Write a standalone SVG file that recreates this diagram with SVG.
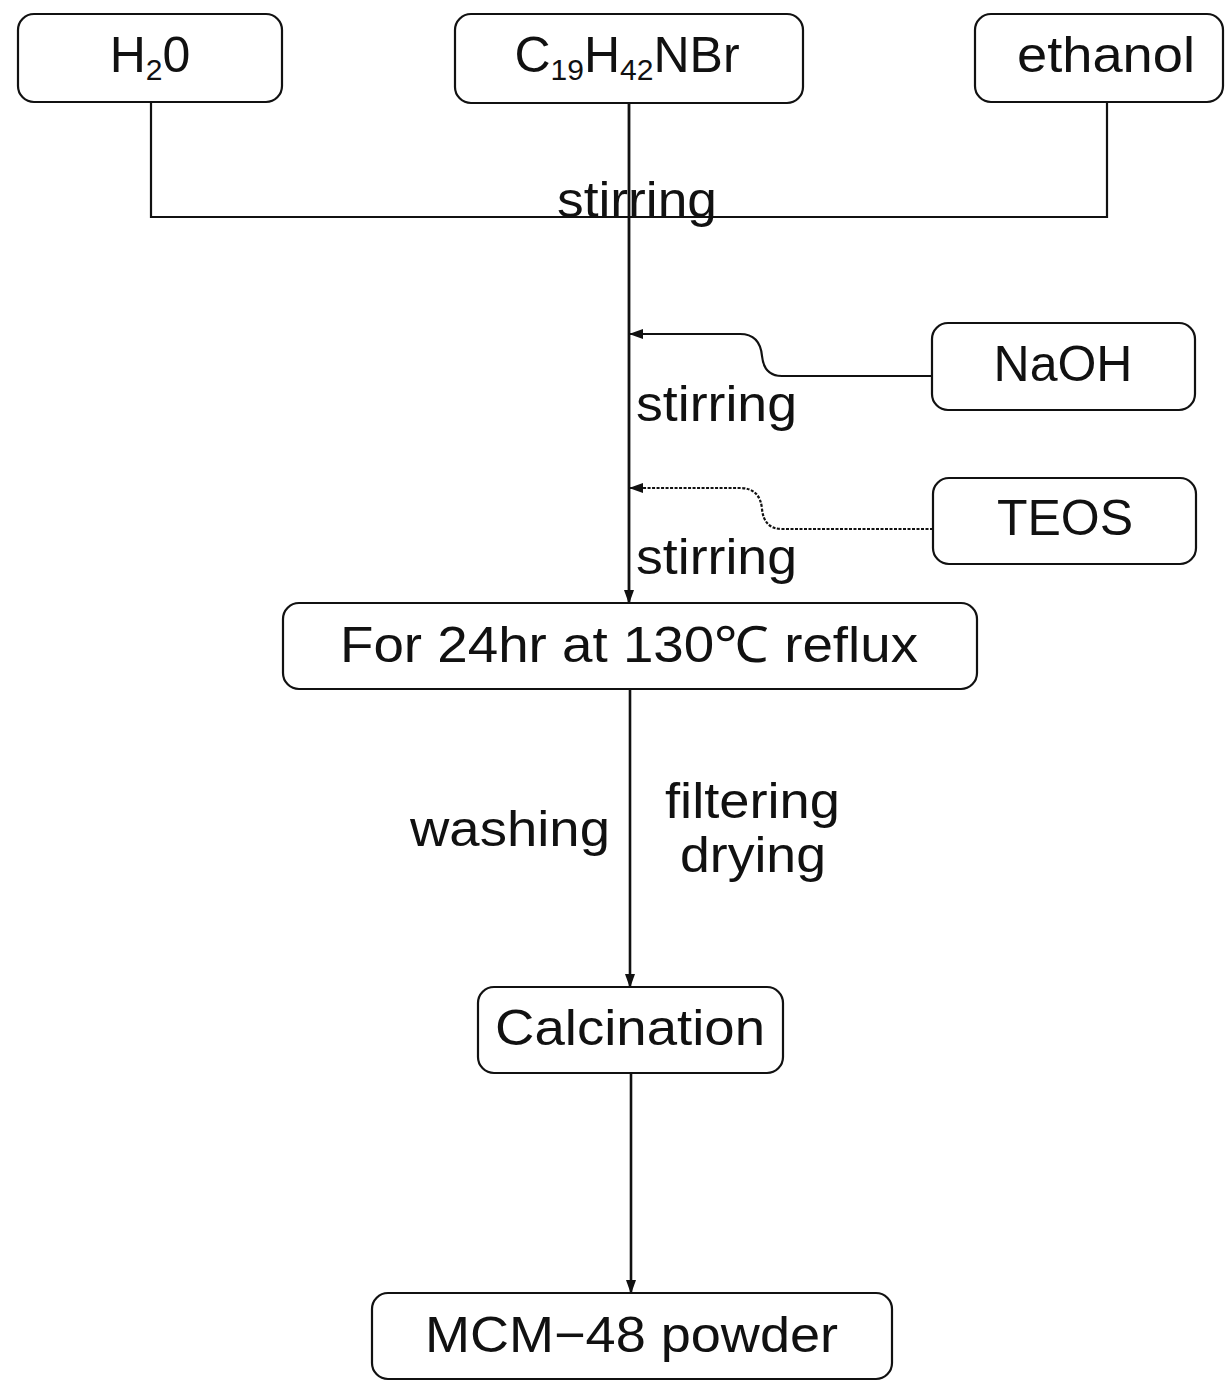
<svg xmlns="http://www.w3.org/2000/svg" width="1225" height="1381" viewBox="0 0 1225 1381">
<style>
.box{fill:#fff;stroke:#111;stroke-width:2.2}
.t{font-family:"Liberation Sans",Arial,sans-serif;font-size:50px;fill:#111}
.s{font-size:30px}
.c{fill:none;stroke:#111;stroke-width:2.2}
</style>
<defs>
<marker id="ah" markerWidth="14" markerHeight="11" refX="13" refY="5.5" orient="auto" markerUnits="userSpaceOnUse" viewBox="0 0 14 11"><path d="M0,0.5 L14,5.5 L0,10.5 z" fill="#111"/></marker>
</defs>
<g id="connectors">
<path class="c" d="M151,102 V217 H1107 V102"/>
<path class="c" d="M629,103 V603" marker-end="url(#ah)" style="stroke-width:2.8"/>
<path class="c" d="M932,376 H782 Q764,376 762,356 Q760,334 740,334 H630" marker-end="url(#ah)"/>
<path class="c" d="M933,529 H782 Q764,529 762,509 Q760,488 740,488 H630" marker-end="url(#ah)" style="stroke-dasharray:3 1.5"/>
<path class="c" d="M630,689 V987" marker-end="url(#ah)" style="stroke-width:2.6"/>
<path class="c" d="M631,1073 V1293" marker-end="url(#ah)" style="stroke-width:2.6"/>
</g>
<g id="labels">
<text class="t" x="557" y="217" textLength="160" lengthAdjust="spacingAndGlyphs">stirring</text>
<text class="t" x="636" y="421" textLength="161" lengthAdjust="spacingAndGlyphs">stirring</text>
<text class="t" x="636" y="574" textLength="161" lengthAdjust="spacingAndGlyphs">stirring</text>
<text class="t" x="410" y="846" textLength="200" lengthAdjust="spacingAndGlyphs">washing</text>
<text class="t" x="665" y="818" textLength="175" lengthAdjust="spacingAndGlyphs">filtering</text>
<text class="t" x="680" y="872" textLength="146" lengthAdjust="spacingAndGlyphs">drying</text>
</g>
<g id="node-h2o">
<rect class="box" x="18" y="14" width="264" height="88" rx="16"/>
<text class="t" x="150" y="72" text-anchor="middle">H<tspan class="s" dy="8">2</tspan><tspan dy="-8">0</tspan></text>
</g>
<g id="node-c19">
<rect class="box" x="455" y="14" width="348" height="89" rx="16"/>
<text class="t" x="627" y="72" text-anchor="middle">C<tspan class="s" dy="8">19</tspan><tspan dy="-8">H</tspan><tspan class="s" dy="8">42</tspan><tspan dy="-8">NBr</tspan></text>
</g>
<g id="node-ethanol">
<rect class="box" x="975" y="14" width="248" height="88" rx="16"/>
<text class="t" x="1017" y="72" textLength="178" lengthAdjust="spacingAndGlyphs">ethanol</text>
</g>
<g id="node-naoh">
<rect class="box" x="932" y="323" width="263" height="87" rx="16"/>
<text class="t" x="1063" y="381" text-anchor="middle">NaOH</text>
</g>
<g id="node-teos">
<rect class="box" x="933" y="478" width="263" height="86" rx="16"/>
<text class="t" x="1065" y="535" text-anchor="middle">TEOS</text>
</g>
<g id="node-reflux">
<rect class="box" x="283" y="603" width="694" height="86" rx="16"/>
<text class="t" x="340" y="662" textLength="578" lengthAdjust="spacingAndGlyphs">For 24hr at 130℃ reflux</text>
</g>
<g id="node-calcination">
<rect class="box" x="478" y="987" width="305" height="86" rx="16"/>
<text class="t" x="495" y="1045" textLength="270" lengthAdjust="spacingAndGlyphs">Calcination</text>
</g>
<g id="node-mcm48">
<rect class="box" x="372" y="1293" width="520" height="86" rx="16"/>
<text class="t" x="425" y="1352" textLength="413" lengthAdjust="spacingAndGlyphs">MCM−48 powder</text>
</g>
</svg>
